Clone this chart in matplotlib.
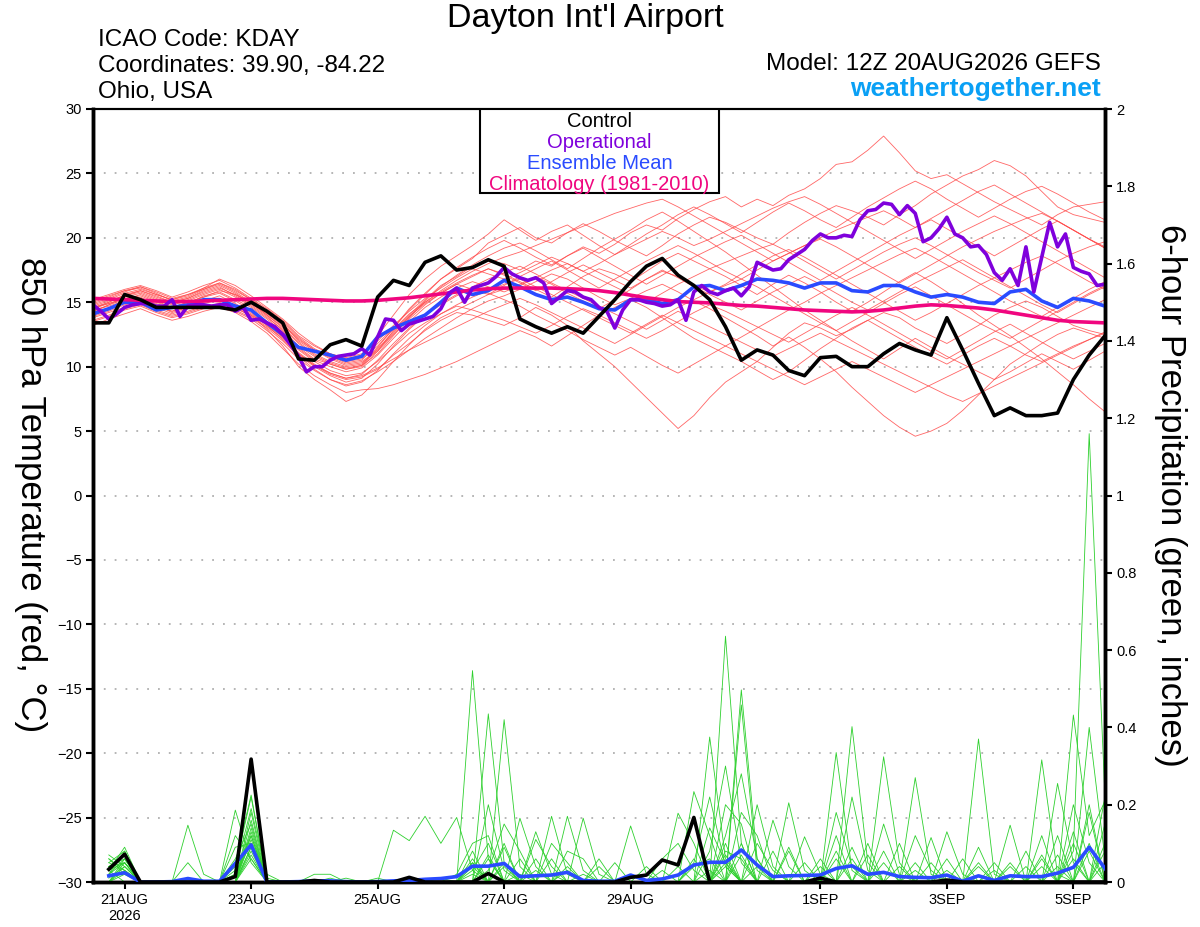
import numpy as np
import matplotlib
matplotlib.use('Agg')
from matplotlib import pyplot as plt
from matplotlib.patches import Rectangle

plt.rcParams['font.family'] = ['Liberation Sans', 'DejaVu Sans']

# forecast hours from 12Z 20AUG2026
hours6 = np.arange(0, 385, 6)
hours3 = np.arange(0, 385, 3)
hours_p = np.arange(6, 385, 6)

tick_hours = [12, 60, 108, 156, 204, 276, 324, 372]
tick_labels = ['21AUG\n2026', '23AUG', '25AUG', '27AUG', '29AUG', '1SEP', '3SEP', '5SEP']

# 850 hPa temperature (C)
control_t = [13.4, 13.4, 15.6, 15.2, 14.6, 14.6, 14.6, 14.6, 14.6, 14.4, 15.0, 14.3, 13.4,
             10.6, 10.5, 11.7, 12.1, 11.6, 15.4, 16.7, 16.3, 18.1, 18.6, 17.5, 17.7, 18.3,
             17.8, 13.7, 13.1, 12.6, 13.1, 12.6, 13.9, 15.2, 16.6, 17.8, 18.4, 17.1, 16.3,
             15.2, 13.1, 10.5, 11.3, 10.9, 9.7, 9.3, 10.7, 10.8, 10.0, 10.0, 11.0, 11.8,
             11.3, 10.9, 13.8, 11.3, 8.7, 6.2, 6.8, 6.2, 6.2, 6.4, 9.0, 10.9, 12.4]

mean_t = [14.1, 14.5, 15.0, 15.0, 14.4, 14.6, 14.8, 15.2, 15.2, 14.7, 14.4, 13.4, 12.5,
          11.5, 11.2, 10.9, 10.5, 10.8, 12.3, 13.0, 13.5, 14.0, 15.0, 16.1, 15.6, 15.9,
          16.7, 16.2, 15.6, 15.2, 15.4, 15.0, 14.5, 14.4, 15.2, 15.2, 14.9, 15.2, 16.2,
          16.3, 15.9, 16.3, 16.8, 16.7, 16.5, 16.1, 16.5, 16.5, 15.9, 15.8, 16.3, 16.3,
          15.8, 15.4, 15.6, 15.4, 15.0, 14.9, 15.8, 16.0, 15.1, 14.6, 15.3, 15.1, 14.7]

clim_t = [15.3, 15.25, 15.2, 15.15, 15.1, 15.05, 15.05, 15.1, 15.15, 15.2, 15.25, 15.3, 15.3,
          15.25, 15.2, 15.15, 15.1, 15.1, 15.15, 15.25, 15.35, 15.5, 15.65, 15.8, 15.95, 16.05,
          16.1, 16.1, 16.1, 16.1, 16.05, 16.0, 15.9, 15.75, 15.55, 15.35, 15.2, 15.05, 15.0,
          14.95, 14.85, 14.75, 14.7, 14.6, 14.5, 14.4, 14.35, 14.3, 14.25, 14.3, 14.4, 14.55,
          14.7, 14.8, 14.75, 14.65, 14.55, 14.4, 14.2, 14.0, 13.8, 13.6, 13.5, 13.45, 13.4]

# operational run, 3-hourly
oper_t = [14.8, 14.3, 13.7, 14.1, 14.6, 14.8, 14.9, 14.9, 14.7, 14.7, 15.2, 13.9, 14.7,
          14.8, 14.8, 14.7, 14.8, 14.8, 14.3, 14.6, 13.6, 13.7, 13.4, 13.1, 12.5, 11.7,
          10.8, 9.6, 10.0, 10.0, 10.5, 10.8, 10.9, 11.0, 11.4, 10.9, 12.3, 13.7, 13.6,
          12.8, 13.3, 13.5, 13.7, 13.9, 14.5, 15.7, 16.1, 15.0, 16.1, 16.3, 16.5, 17.0,
          17.7, 17.2, 16.9, 16.7, 16.9, 16.5, 14.9, 15.4, 15.9, 15.8, 15.4, 15.2, 14.6,
          14.3, 13.0, 14.4, 15.2, 15.2, 15.0, 14.9, 14.7, 14.8, 15.2, 13.6, 15.8, 16.3,
          15.8, 15.6, 15.9, 16.1, 15.5, 16.2, 18.1, 17.8, 17.5, 17.6, 18.3, 18.7, 19.1,
          19.8, 20.3, 20.0, 20.0, 20.2, 20.1, 21.4, 22.1, 22.2, 22.7, 22.6, 21.8, 22.5,
          21.9, 19.7, 20.0, 20.7, 21.6, 20.3, 20.0, 19.3, 19.4, 18.7, 17.3, 16.7, 17.6,
          16.3, 19.3, 15.8, 18.5, 21.2, 19.3, 20.3, 17.7, 17.4, 17.2, 16.3, 16.4]

# ensemble members (6-hourly)
members_t = [
    [14.5, 15.0, 15.6, 15.9, 15.4, 15.0, 15.3, 15.8, 16.2, 15.5, 14.8, 13.9, 12.8, 11.5, 10.6, 10.2, 9.8, 10.0,
     11.2, 12.8, 14.0, 15.2, 16.3, 17.0, 17.8, 18.2, 18.0, 17.5, 18.2, 17.8, 18.6, 19.3, 18.8, 19.5, 20.4, 21.0,
     20.6, 21.5, 22.2, 22.8, 23.2, 22.4, 23.0, 22.5, 23.3, 23.8, 24.6, 25.7, 25.9, 26.8, 27.9, 26.6, 25.2, 24.6,
     24.9, 24.2, 23.5, 22.8, 22.2, 21.6, 21.0, 21.8, 22.4, 22.6, 22.8],
    [14.2, 14.8, 15.2, 15.6, 15.1, 14.6, 15.0, 15.4, 15.9, 15.6, 15.0, 14.2, 13.4, 12.0, 11.2, 10.8, 10.3, 10.5,
     11.8, 13.0, 14.4, 15.6, 16.8, 17.6, 18.4, 19.6, 20.2, 20.8, 20.0, 19.6, 20.4, 21.1, 20.5, 19.8, 19.2, 18.6,
     19.4, 20.3, 21.0, 21.6, 21.2, 20.6, 20.0, 19.5, 20.4, 21.2, 21.9, 22.5, 22.1, 21.6, 21.0, 21.8, 22.5, 23.4,
     24.1, 24.8, 25.3, 26.0, 25.6, 24.8, 23.6, 22.4, 21.8, 21.5, 21.2],
    [13.8, 14.2, 14.6, 14.9, 14.4, 14.0, 14.3, 14.7, 14.9, 14.6, 13.9, 13.1, 12.2, 11.0, 10.1, 9.4, 9.0, 9.2,
     9.8, 10.9, 11.8, 12.8, 13.6, 14.2, 14.0, 13.6, 13.2, 13.8, 14.6, 14.0, 13.2, 12.0, 11.0, 10.0, 8.8, 7.6,
     6.4, 5.2, 6.2, 7.6, 8.8, 9.6, 10.4, 11.5, 12.6, 13.4, 13.0, 12.4, 12.9, 13.6, 14.2, 13.8, 13.0, 12.4,
     11.8, 12.5, 13.2, 14.0, 14.6, 15.1, 14.6, 13.9, 13.2, 12.8, 12.5],
    [14.6, 14.9, 15.3, 15.1, 14.7, 14.3, 14.8, 15.2, 15.0, 14.4, 13.8, 13.0, 12.0, 10.8, 9.8, 9.0, 8.6, 8.9,
     9.6, 10.4, 11.3, 12.2, 13.0, 13.8, 14.5, 15.1, 15.5, 16.0, 16.6, 17.2, 16.8, 16.1, 15.4, 14.8, 15.3, 15.9,
     16.4, 15.8, 15.1, 14.5, 13.8, 13.1, 12.4, 11.6, 12.3, 11.5, 10.6, 9.6, 8.4, 7.3, 6.2, 5.3, 4.6, 5.0,
     5.6, 6.6, 7.8, 9.0, 10.2, 11.0, 11.8, 12.5, 13.0, 12.6, 12.2],
    [15.0, 15.4, 15.9, 16.2, 15.8, 15.3, 15.6, 16.0, 16.5, 16.0, 15.2, 14.4, 13.5, 12.3, 11.4, 10.8, 10.4, 10.6,
     11.6, 12.9, 14.1, 15.0, 15.8, 16.5, 17.1, 17.6, 17.2, 16.6, 16.0, 15.4, 16.2, 17.0, 17.6, 17.2, 16.6, 17.4,
     18.2, 18.8, 18.2, 17.6, 17.0, 16.3, 15.6, 16.4, 17.1, 16.5, 15.8, 15.0, 14.3, 15.0, 15.8, 16.6, 17.3, 16.6,
     15.8, 14.9, 14.0, 13.2, 12.4, 11.5, 10.6, 9.6, 8.6, 7.5, 6.5],
    [13.2, 13.7, 14.1, 14.5, 14.0, 13.6, 13.9, 14.3, 14.6, 14.2, 13.5, 12.6, 11.4, 10.2, 9.3, 8.6, 8.0, 8.2,
     8.3, 8.6, 9.0, 9.4, 9.9, 10.4, 11.0, 11.6, 12.2, 12.8, 12.3, 11.6, 12.4, 13.2, 14.0, 14.6, 15.2, 14.6,
     13.8, 13.0, 12.2, 11.6, 11.0, 10.4, 9.7, 9.0, 9.6, 10.5, 11.4, 12.2, 13.0, 13.6, 12.9, 12.2, 11.5, 10.8,
     10.2, 10.9, 11.6, 12.2, 11.6, 10.9, 10.4, 11.0, 11.6, 12.1, 12.6],
    [14.0, 14.4, 15.0, 15.4, 14.8, 14.2, 14.6, 15.0, 15.3, 14.7, 14.0, 12.9, 11.6, 10.0, 9.0, 8.2, 7.3, 7.8,
     9.0, 10.4, 11.7, 12.9, 13.8, 14.4, 15.0, 15.6, 16.0, 16.4, 17.0, 16.4, 15.7, 15.1, 14.5, 15.2, 16.0, 16.8,
     17.4, 17.0, 16.3, 15.8, 16.4, 17.2, 17.9, 18.6, 19.1, 18.5, 17.8, 17.1, 16.4, 15.7, 15.0, 14.3, 13.6, 14.2,
     14.9, 15.6, 16.3, 16.9, 17.5, 18.1, 18.6, 18.0, 17.3, 16.6, 16.0],
    [14.8, 15.2, 15.7, 16.0, 15.6, 15.2, 15.5, 16.1, 16.8, 16.3, 15.5, 14.6, 13.7, 12.6, 11.7, 11.0, 10.6, 10.9,
     12.4, 14.0, 15.6, 16.8, 17.8, 18.6, 19.4, 20.3, 21.4, 20.6, 19.8, 20.5, 21.0, 20.2, 19.4, 18.7, 19.5, 20.3,
     21.0, 21.8, 22.4, 21.8, 21.1, 20.4, 21.2, 22.0, 22.7, 22.1, 21.4, 20.8, 21.6, 22.4, 23.1, 23.8, 24.4, 23.8,
     23.0, 22.3, 21.6, 22.3, 23.0, 23.6, 24.0, 23.4, 22.7, 22.0, 21.4],
    [14.4, 14.7, 15.1, 15.3, 14.9, 14.5, 14.9, 15.5, 15.8, 15.2, 14.6, 13.7, 12.7, 11.4, 10.5, 10.0, 9.6, 9.9,
     10.9, 12.2, 13.5, 14.6, 15.4, 16.1, 16.6, 16.2, 15.8, 16.3, 16.9, 17.5, 18.0, 17.4, 16.8, 16.2, 15.6, 15.0,
     15.7, 16.4, 17.0, 17.6, 18.1, 18.6, 19.1, 19.5, 18.9, 18.2, 17.5, 16.8, 17.5, 18.2, 18.9, 19.5, 20.0, 19.4,
     18.7, 18.0, 17.3, 16.7, 16.1, 16.8, 17.5, 18.2, 18.8, 19.3, 19.7],
    [13.6, 14.0, 14.5, 14.8, 14.3, 13.9, 14.2, 14.6, 14.9, 14.5, 14.0, 13.3, 12.4, 11.3, 10.4, 9.7, 9.3, 9.5,
     10.4, 11.5, 12.6, 13.4, 14.1, 14.7, 14.4, 14.0, 13.6, 13.1, 12.6, 13.2, 13.9, 14.5, 14.0, 13.4, 12.8, 12.2,
     12.8, 13.5, 14.2, 14.8, 14.3, 13.7, 13.1, 12.5, 11.9, 12.6, 13.3, 14.0, 14.6, 14.0, 13.3, 12.6, 11.9, 11.2,
     10.6, 11.3, 12.0, 12.7, 13.3, 12.6, 11.9, 11.2, 10.6, 11.2, 11.8],
    [15.2, 15.6, 16.0, 16.3, 15.9, 15.4, 15.8, 16.3, 16.7, 16.1, 15.3, 14.5, 13.6, 12.4, 11.6, 11.0, 10.7, 11.0,
     12.0, 13.2, 14.3, 15.3, 16.1, 16.9, 17.6, 17.2, 16.8, 17.3, 17.9, 18.5, 18.0, 17.4, 18.0, 18.7, 19.3, 19.9,
     20.5, 20.0, 19.4, 19.9, 20.5, 21.1, 21.7, 22.3, 22.8, 23.2, 22.6, 21.9, 21.2, 20.5, 19.8, 19.1, 18.4, 19.1,
     19.8, 20.5, 21.1, 21.7, 21.1, 20.4, 19.7, 19.0, 18.3, 17.6, 16.9],
    [14.9, 15.3, 15.8, 16.2, 15.7, 15.1, 15.4, 16.0, 16.4, 15.8, 15.0, 14.0, 13.0, 11.8, 10.9, 10.3, 9.9, 10.1,
     11.0, 12.4, 13.8, 15.1, 16.2, 17.1, 17.9, 18.6, 19.2, 19.6, 19.0, 18.3, 17.6, 18.4, 19.2, 19.9, 20.6, 21.4,
     22.0, 21.3, 20.5, 19.7, 18.9, 18.0, 17.1, 16.2, 15.3, 14.4, 13.6, 12.8, 12.0, 11.3, 10.6, 11.4, 12.2, 11.5,
     10.8, 10.2, 9.6, 9.0, 9.6, 10.3, 11.0, 10.4, 9.8, 10.5, 11.2],
    [14.1, 14.5, 14.9, 15.2, 14.7, 14.3, 14.6, 15.1, 15.5, 14.9, 14.2, 13.2, 12.1, 10.9, 10.0, 9.3, 8.8, 9.1,
     10.2, 11.6, 12.9, 14.0, 14.8, 15.5, 16.1, 15.7, 15.2, 14.7, 14.0, 13.4, 12.8, 12.1, 11.5, 10.9, 11.5, 10.8,
     10.1, 9.5, 10.2, 10.9, 11.6, 12.3, 13.0, 13.7, 14.4, 15.0, 15.7, 16.3, 16.9, 17.5, 18.1, 18.7, 19.2, 18.6,
     17.9, 17.2, 16.5, 15.8, 15.1, 14.5, 13.9, 14.6, 15.3, 16.0, 16.6],
    [14.3, 14.8, 15.4, 15.7, 15.2, 14.8, 15.1, 15.6, 16.0, 15.4, 14.7, 13.8, 12.9, 11.6, 10.8, 10.2, 9.8, 10.1,
     11.4, 12.7, 13.9, 14.9, 15.7, 16.4, 17.0, 17.6, 17.1, 16.5, 15.9, 16.6, 17.3, 17.9, 17.3, 16.7, 16.1, 16.8,
     17.5, 16.9, 16.2, 15.6, 15.0, 14.4, 15.1, 15.8, 16.4, 17.0, 16.4, 15.7, 15.0, 14.4, 15.1, 15.8, 16.5, 17.1,
     17.7, 18.3, 17.6, 16.9, 16.2, 15.5, 14.8, 14.2, 14.9, 15.6, 16.2],
    [13.9, 14.3, 14.8, 15.1, 14.6, 14.1, 14.5, 14.9, 15.2, 14.8, 14.1, 13.2, 12.3, 11.1, 10.2, 9.5, 9.1, 9.4,
     10.5, 11.8, 13.0, 14.1, 14.9, 15.6, 16.2, 16.8, 17.3, 17.8, 17.2, 16.5, 15.9, 15.3, 14.7, 14.1, 13.5, 12.9,
     13.6, 14.3, 13.7, 13.1, 12.5, 11.9, 11.3, 10.8, 11.4, 12.0, 12.6, 12.0, 11.4, 10.8, 10.2, 9.6, 9.0, 8.4,
     7.8, 7.3, 7.9, 8.5, 9.1, 9.7, 10.3, 10.9, 11.5, 12.1, 12.7],
    [14.7, 15.1, 15.5, 15.8, 15.3, 14.9, 15.2, 15.7, 16.1, 15.6, 14.9, 14.1, 13.2, 12.1, 11.3, 10.7, 10.2, 10.4,
     11.3, 12.6, 13.9, 15.0, 15.9, 16.7, 17.4, 18.0, 18.5, 18.9, 19.4, 19.9, 20.4, 20.9, 21.4, 21.9, 22.3, 22.7,
     23.0, 22.4, 21.7, 21.0, 20.3, 19.6, 18.9, 18.2, 18.8, 19.4, 19.9, 19.3, 18.6, 17.9, 17.2, 16.5, 17.2, 17.9,
     18.6, 19.3, 19.9, 20.5, 21.0, 21.5, 21.9, 21.3, 20.6, 19.9, 19.2],
    [14.5, 14.9, 15.3, 15.5, 15.0, 14.6, 15.0, 15.4, 15.7, 15.1, 14.4, 13.4, 12.3, 11.0, 10.1, 9.5, 9.1, 9.3,
     9.9, 10.6, 11.3, 11.9, 12.5, 13.1, 13.7, 14.3, 14.8, 15.3, 14.8, 14.2, 13.6, 13.0, 12.4, 11.8, 12.5, 13.2,
     13.9, 14.6, 15.2, 15.8, 16.3, 16.8, 16.2, 15.5, 14.8, 14.1, 13.4, 12.8, 13.5, 14.2, 14.9, 15.6, 16.2, 15.5,
     14.8, 14.1, 13.4, 12.8, 12.2, 12.9, 13.6, 14.3, 15.0, 15.7, 16.3],
    [15.1, 15.5, 15.9, 16.1, 15.6, 15.2, 15.6, 16.1, 16.5, 15.9, 15.2, 14.3, 13.3, 12.2, 11.3, 10.6, 10.1, 10.3,
     11.2, 12.5, 13.7, 14.8, 15.7, 16.4, 16.0, 15.6, 16.3, 17.0, 17.6, 18.2, 17.5, 16.8, 16.1, 16.8, 17.5, 18.2,
     18.8, 19.4, 18.8, 18.1, 17.4, 16.8, 17.5, 18.2, 18.8, 19.4, 20.0, 20.6, 21.1, 21.6, 22.1, 21.5, 20.8, 21.5,
     22.2, 22.9, 23.6, 24.1, 23.4, 22.7, 22.0, 21.3, 20.6, 19.9, 19.3],
    [13.5, 13.9, 14.4, 14.7, 14.2, 13.8, 14.1, 14.5, 14.8, 14.3, 13.7, 12.8, 11.8, 10.6, 9.7, 9.0, 8.5, 8.8,
     9.7, 11.0, 12.2, 13.2, 14.1, 14.8, 15.4, 15.9, 16.4, 16.8, 16.2, 15.6, 15.0, 14.4, 13.8, 13.2, 12.6, 13.3,
     14.0, 13.4, 12.8, 12.2, 11.6, 11.0, 10.4, 9.8, 9.2, 8.6, 9.2, 9.8, 10.4, 9.8, 9.2, 8.6, 8.0, 8.6,
     9.2, 9.8, 10.4, 11.0, 11.6, 12.2, 12.8, 13.4, 14.0, 14.6, 15.2],
    [14.6, 15.0, 15.5, 15.9, 15.5, 15.0, 15.3, 15.9, 16.3, 15.7, 14.9, 14.0, 13.1, 11.9, 11.0, 10.4, 10.0, 10.2,
     11.5, 13.0, 14.5, 15.7, 16.8, 17.7, 18.5, 19.2, 19.8, 19.2, 18.5, 17.9, 18.6, 19.2, 18.5, 17.8, 17.1, 16.4,
     17.1, 17.8, 18.5, 19.1, 19.7, 20.2, 19.5, 18.8, 18.1, 17.4, 16.7, 17.4, 18.1, 18.8, 19.5, 20.2, 20.8, 21.4,
     20.7, 20.0, 19.3, 18.6, 19.3, 20.0, 20.7, 21.3, 20.6, 19.9, 19.2],
]

# 6-hour precipitation (inches), step number -> amount, other steps are zero
control_p = {1: 0.033, 2: 0.072, 9: 0.014, 10: 0.318, 14: 0.004, 20: 0.012, 25: 0.022,
             34: 0.012, 35: 0.018, 36: 0.057, 37: 0.044, 38: 0.167, 46: 0.01, 54: 0.005}

mean_p = [0.016, 0.024, 0.0, 0.0, 0.001, 0.009, 0.002, 0.002, 0.048, 0.096, 0.0, 0.0, 0.001,
          0.003, 0.003, 0.001, 0.0, 0.001, 0.003, 0.004, 0.007, 0.009, 0.014, 0.041, 0.041, 0.048,
          0.014, 0.016, 0.018, 0.025, 0.004, 0.002, 0.002, 0.018, 0.004, 0.008, 0.018, 0.044, 0.051,
          0.051, 0.083, 0.044, 0.014, 0.016, 0.017, 0.018, 0.035, 0.042, 0.02, 0.025, 0.014, 0.012,
          0.011, 0.018, 0.002, 0.016, 0.004, 0.016, 0.014, 0.014, 0.023, 0.038, 0.09, 0.035]

members_p = [
    {1: 0.05, 2: 0.08, 9: 0.04, 10: 0.22, 24: 0.547, 25: 0.06, 30: 0.03, 40: 0.636, 41: 0.10, 48: 0.06, 62: 0.08, 63: 1.16, 64: 0.22},
    {1: 0.07, 2: 0.04, 10: 0.16, 25: 0.435, 26: 0.05, 34: 0.02, 39: 0.375, 40: 0.06, 47: 0.335, 48: 0.03, 56: 0.04, 60: 0.316, 61: 0.02},
    {1: 0.03, 2: 0.09, 9: 0.186, 10: 0.05, 26: 0.42, 27: 0.04, 41: 0.497, 42: 0.06, 50: 0.08, 52: 0.27, 53: 0.02, 62: 0.432, 63: 0.12, 64: 0.21},
    {2: 0.03, 6: 0.147, 7: 0.02, 10: 0.12, 19: 0.134, 20: 0.107, 21: 0.17, 22: 0.10, 23: 0.167, 24: 0.03, 28: 0.06, 41: 0.458, 42: 0.03, 48: 0.402, 49: 0.05, 58: 0.147},
    {1: 0.02, 2: 0.05, 9: 0.05, 10: 0.225, 24: 0.04, 29: 0.17, 30: 0.02, 38: 0.234, 39: 0.12, 44: 0.205, 45: 0.03, 56: 0.37, 57: 0.02, 61: 0.255, 62: 0.05},
    {1: 0.04, 2: 0.06, 6: 0.05, 10: 0.14, 25: 0.06, 27: 0.165, 28: 0.04, 37: 0.178, 38: 0.1, 42: 0.2, 43: 0.04, 50: 0.324, 51: 0.05, 63: 0.18},
    {2: 0.02, 9: 0.09, 10: 0.10, 14: 0.02, 15: 0.02, 26: 0.10, 30: 0.17, 31: 0.03, 34: 0.145, 35: 0.02, 40: 0.2, 41: 0.15, 47: 0.12, 54: 0.13, 55: 0.02, 64: 0.1},
    {1: 0.06, 2: 0.03, 10: 0.07, 23: 0.02, 24: 0.1, 25: 0.12, 31: 0.165, 32: 0.02, 39: 0.08, 40: 0.3, 41: 0.05, 45: 0.117, 46: 0.02, 53: 0.115, 60: 0.06, 62: 0.13},
    {1: 0.03, 10: 0.09, 11: 0.02, 25: 0.03, 26: 0.15, 27: 0.08, 38: 0.05, 39: 0.22, 40: 0.04, 43: 0.16, 44: 0.04, 49: 0.1, 52: 0.05, 59: 0.08, 61: 0.07, 64: 0.05},
    {2: 0.05, 9: 0.12, 10: 0.06, 15: 0.01, 24: 0.08, 28: 0.11, 29: 0.04, 36: 0.06, 37: 0.1, 38: 0.03, 44: 0.08, 47: 0.18, 48: 0.04, 57: 0.05, 63: 0.4, 64: 0.06},
    {1: 0.04, 2: 0.07, 10: 0.18, 18: 0.01, 24: 0.05, 26: 0.09, 32: 0.04, 40: 0.12, 41: 0.28, 42: 0.06, 51: 0.1, 54: 0.03, 60: 0.12},
    {1: 0.01, 2: 0.04, 9: 0.06, 10: 0.15, 25: 0.2, 26: 0.03, 33: 0.05, 39: 0.14, 40: 0.05, 46: 0.06, 48: 0.22, 49: 0.03, 56: 0.09, 62: 0.2, 63: 0.05},
    {2: 0.06, 10: 0.11, 24: 0.02, 27: 0.06, 29: 0.1, 30: 0.05, 37: 0.04, 41: 0.18, 42: 0.12, 50: 0.15, 51: 0.02, 58: 0.05, 61: 0.12, 64: 0.22},
    {1: 0.05, 2: 0.03, 9: 0.03, 10: 0.19, 11: 0.01, 25: 0.07, 28: 0.13, 29: 0.02, 40: 0.1, 44: 0.09, 52: 0.12, 53: 0.03, 59: 0.04, 63: 0.1},
    {1: 0.02, 2: 0.08, 10: 0.08, 24: 0.06, 30: 0.08, 31: 0.06, 38: 0.04, 39: 0.06, 41: 0.1, 47: 0.06, 55: 0.06, 60: 0.04, 62: 0.1},
    {1: 0.03, 2: 0.05, 10: 0.13, 16: 0.01, 26: 0.04, 29: 0.06, 40: 0.05, 42: 0.1, 43: 0.03, 49: 0.07, 53: 0.05, 61: 0.04, 64: 0.08},
    {2: 0.04, 9: 0.02, 10: 0.1, 24: 0.03, 25: 0.1, 31: 0.02, 36: 0.03, 40: 0.08, 41: 0.06, 46: 0.04, 50: 0.05, 57: 0.03, 63: 0.08},
    {1: 0.06, 2: 0.02, 10: 0.06, 22: 0.01, 27: 0.02, 32: 0.06, 39: 0.03, 41: 0.07, 45: 0.05, 48: 0.09, 54: 0.06, 62: 0.06, 64: 0.15},
    {1: 0.02, 2: 0.06, 9: 0.02, 10: 0.12, 26: 0.05, 30: 0.04, 38: 0.06, 40: 0.04, 43: 0.08, 51: 0.04, 56: 0.05, 60: 0.07},
    {1: 0.04, 2: 0.05, 10: 0.09, 24: 0.05, 28: 0.03, 35: 0.04, 40: 0.07, 42: 0.04, 47: 0.08, 52: 0.03, 58: 0.04, 63: 0.2},
]


def fill_steps(events):
    arr = np.zeros(len(hours_p))
    for step, val in events.items():
        arr[step - 1] = val
    return arr


fig = plt.figure(figsize=(12, 9.27), dpi=100)
ax = fig.add_axes([93 / 1200, 1 - 882 / 927, 1012 / 1200, 773 / 927])

for m in members_t:
    ax.plot(hours6, m, color='#ff4a4a', lw=0.6, alpha=0.85, zorder=2)
ax.plot(hours6, mean_t, color='#2a4bff', lw=2.6, zorder=4)
ax.plot(hours6, clim_t, color='#f0067f', lw=2.6, zorder=5)
ax.plot(hours3, oper_t, color='#7f00dc', lw=2.6, zorder=6)
ax.plot(hours6, control_t, color='black', lw=2.6, zorder=7)

ax.set_xlim(0, 384)
ax.set_ylim(-30, 30)
ax.set_yticks(np.arange(-30, 31, 5))
ax.yaxis.grid(True, color='#b0b0b0', linestyle=(0, (1, 5)), lw=1.3)
ax.set_axisbelow(True)
ax.set_xticks(tick_hours)
ax.set_xticklabels(tick_labels)
ax.tick_params(axis='both', labelsize=10.5, direction='out', length=5, width=1.5, pad=3)
for s in ['left', 'right', 'bottom']:
    ax.spines[s].set_linewidth(2.5)
ax.spines['top'].set_linewidth(1.5)

ax2 = ax.twinx()
for m in members_p:
    ax2.plot(hours_p, fill_steps(m), color='#2ed02e', lw=0.6, zorder=2)
ax2.plot(hours_p, mean_p, color='#2a4bff', lw=2.6, zorder=4)
ax2.plot(hours_p, fill_steps(control_p), color='black', lw=2.6, zorder=5)
ax2.set_ylim(0, 2)
ax2.set_yticks(np.arange(0, 2.01, 0.2))
ax2.set_yticklabels(['0', '0.2', '0.4', '0.6', '0.8', '1', '1.2', '1.4', '1.6', '1.8', '2'])
ax2.tick_params(axis='y', labelsize=10.5, direction='out', length=5, width=1.5, pad=3)
for s in ['left', 'right', 'bottom']:
    ax2.spines[s].set_linewidth(2.5)
ax2.spines['top'].set_linewidth(1.5)

# legend box
x0 = (480 - 93) / 1012
x1 = (719 - 93) / 1012
y0 = (882 - 193) / 773
ax2.add_patch(Rectangle((x0, y0), x1 - x0, 1 - y0, transform=ax2.transAxes,
                        facecolor='white', edgecolor='black', lw=1.5, zorder=10))
leg_items = [('Control', 'black'), ('Operational', '#7f00dc'),
             ('Ensemble Mean', '#2a4bff'), ('Climatology (1981-2010)', '#f0067f')]
for i, (txt, col) in enumerate(leg_items):
    ax2.text((x0 + x1) / 2, (882 - 121 - 21.3 * i) / 773, txt, color=col, fontsize=14.5,
             ha='center', va='center', transform=ax2.transAxes, zorder=11)

# axis titles, both read top to bottom
fig.text(30 / 1200, 1 - 495 / 927, '850 hPa Temperature (red, °C)', fontsize=25,
         rotation=270, ha='center', va='center')
fig.text(1170 / 1200, 1 - 495 / 927, '6-hour Precipitation (green, inches)', fontsize=25,
         rotation=270, ha='center', va='center')

fig.text(585 / 1200, 1 - 19 / 927, "Dayton Int'l Airport", fontsize=24.5, ha='center', va='center')
fig.text(98 / 1200, 1 - 40 / 927, 'ICAO Code: KDAY', fontsize=17.5, ha='left', va='center')
fig.text(98 / 1200, 1 - 66 / 927, 'Coordinates: 39.90, -84.22', fontsize=17.5, ha='left', va='center')
fig.text(98 / 1200, 1 - 92 / 927, 'Ohio, USA', fontsize=17.5, ha='left', va='center')
fig.text(1101 / 1200, 1 - 64 / 927, 'Model: 12Z 20AUG2026 GEFS', fontsize=17.5, ha='right', va='center')
fig.text(1101 / 1200, 1 - 89 / 927, 'weathertogether.net', fontsize=19, fontweight='bold',
         color='#0aa0f5', ha='right', va='center')

fig.savefig('out.png', dpi=100)
